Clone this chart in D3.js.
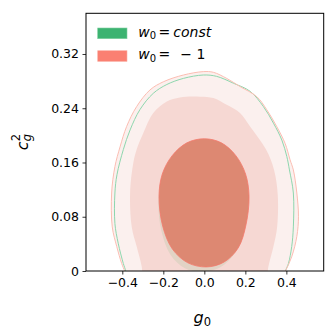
<!DOCTYPE html>
<html>
<head>
<meta charset="utf-8">
<script src="https://cdn.jsdelivr.net/npm/d3@7"></script>
<style>
  html, body { margin: 0; padding: 0; background: #fff; }
  svg text { font-family: "DejaVu Sans", sans-serif; fill: #000; }
</style>
</head>
<body>
<div id="chart"></div>
<script>
// tick values and labels
const xTicks = [-0.4, -0.2, 0.0, 0.2, 0.4];
const xTickLabels = ["\u22120.4", "\u22120.2", "0.0", "0.2", "0.4"];
const yTicks = [0, 0.08, 0.16, 0.24, 0.32];
const yTickLabels = ["0", "0.08", "0.16", "0.24", "0.32"];

// contours, [g0, c_g^2]
const redOuter = [
  [-0.005, 0.294], [0.044, 0.293], [0.109, 0.284], [0.174, 0.272], [0.256, 0.257],
  [0.304, 0.238], [0.353, 0.213], [0.394, 0.188], [0.418, 0.164], [0.434, 0.149],
  [0.451, 0.115], [0.459, 0.080], [0.451, 0.051], [0.426, 0.021], [0.394, -0.001],
  [0.36, -0.02], [0.25, -0.045], [0.0, -0.06], [-0.25, -0.045], [-0.36, -0.02],
  [-0.387, -0.001], [-0.403, 0.011], [-0.427, 0.036], [-0.449, 0.065], [-0.452, 0.115],
  [-0.436, 0.154], [-0.411, 0.183], [-0.379, 0.213], [-0.330, 0.2425], [-0.265, 0.267],
  [-0.200, 0.279], [-0.102, 0.289]
];
const greenOuter = [
  [-0.005, 0.289], [0.060, 0.287], [0.141, 0.277], [0.223, 0.265], [0.288, 0.2425],
  [0.337, 0.218], [0.378, 0.193], [0.402, 0.169], [0.415, 0.149], [0.434, 0.115],
  [0.434, 0.065], [0.426, 0.036], [0.410, 0.011], [0.394, -0.001], [0.37, -0.03],
  [0.2, -0.06], [0.0, -0.07], [-0.2, -0.06], [-0.36, -0.03], [-0.382, -0.001],
  [-0.395, 0.011], [-0.420, 0.041], [-0.436, 0.070], [-0.436, 0.115], [-0.426, 0.142],
  [-0.395, 0.179], [-0.362, 0.208], [-0.314, 0.238], [-0.249, 0.262], [-0.183, 0.275],
  [-0.102, 0.284]
];
const redMiddle = [
  [-0.021, 0.257], [0.044, 0.255], [0.109, 0.245], [0.174, 0.233], [0.223, 0.213],
  [0.301, 0.179], [0.340, 0.149], [0.358, 0.112], [0.355, 0.065], [0.337, 0.036],
  [0.312, 0.006], [0.29, -0.03], [0.0, -0.05], [-0.29, -0.03], [-0.305, 0.006],
  [-0.330, 0.036], [-0.354, 0.065], [-0.362, 0.115], [-0.346, 0.160], [-0.330, 0.179],
  [-0.298, 0.203], [-0.249, 0.233], [-0.183, 0.250], [-0.119, 0.256]
];
const greenInner = [
  [-0.01, 0.19], [0.08, 0.183], [0.15, 0.163], [0.195, 0.135], [0.21, 0.10],
  [0.193, 0.06], [0.15, 0.027], [0.08, 0.006], [-0.01, -0.001], [-0.095, 0.004],
  [-0.165, 0.024], [-0.21, 0.06], [-0.224, 0.105], [-0.205, 0.14], [-0.16, 0.167],
  [-0.09, 0.185]
];
const redInner = [
  [0.0, 0.195], [0.083, 0.189], [0.154, 0.170], [0.201, 0.143], [0.218, 0.110],
  [0.203, 0.068], [0.165, 0.034], [0.095, 0.013], [0.01, 0.006], [-0.08, 0.012],
  [-0.155, 0.032], [-0.203, 0.066], [-0.221, 0.110], [-0.205, 0.143], [-0.157, 0.170],
  [-0.085, 0.189]
];

const legendItems = [
  { color: "#3cb371", edge: "#7fd0a0", rhs: "const", italic: true },
  { color: "#fa8072", edge: "#fbb0a6", rhs: "\u2212 1", italic: false }
];

const width = 336, height = 336;
const margin = { top: 13.3, right: 12.3, bottom: 65, left: 86 };
const innerW = width - margin.left - margin.right;
const innerH = height - margin.top - margin.bottom;

const svg = d3.select("#chart").append("svg")
  .attr("width", width)
  .attr("height", height);

const xScale = d3.scaleLinear().domain([-0.577, 0.582]).range([0, innerW]);
const yScale = d3.scaleLinear().domain([0, 0.38]).range([innerH, 0]);

svg.append("defs").append("clipPath").attr("id", "plot-clip")
  .append("rect").attr("width", innerW).attr("height", innerH);

const bounds = svg.append("g")
  .attr("transform", `translate(${margin.left},${margin.top})`);

const contours = bounds.append("g").attr("clip-path", "url(#plot-clip)");
const lineGen = d3.line()
  .x(d => xScale(d[0]))
  .y(d => yScale(d[1]))
  .curve(d3.curveCatmullRomClosed.alpha(0.5));

contours.append("path").attr("d", lineGen(redOuter)).attr("fill", "#fbf0ee");
contours.append("path").attr("d", lineGen(redMiddle)).attr("fill", "#f6d8d3");
contours.append("path").attr("d", lineGen(greenInner)).attr("fill", "#e2d3c5");
contours.append("path").attr("d", lineGen(redInner))
  .attr("fill", "#dd8872").attr("stroke", "#f47a6c").attr("stroke-width", 0.8);
contours.append("path").attr("d", lineGen(greenOuter))
  .attr("fill", "none").attr("stroke", "#8dd6ad").attr("stroke-width", 1);
contours.append("path").attr("d", lineGen(redOuter))
  .attr("fill", "none").attr("stroke", "#fbbdb2").attr("stroke-width", 1);

// axes
const xAxis = d3.axisBottom(xScale).tickValues(xTicks)
  .tickFormat((d, i) => xTickLabels[i]).tickSize(3.5).tickPadding(3.5);
const yAxis = d3.axisLeft(yScale).tickValues(yTicks)
  .tickFormat((d, i) => yTickLabels[i]).tickSize(3.5).tickPadding(3.5);

const gx = bounds.append("g").attr("transform", `translate(0,${innerH})`).call(xAxis);
const gy = bounds.append("g").call(yAxis);
[gx, gy].forEach(g => {
  g.select(".domain").remove();
  g.selectAll(".tick line").attr("stroke", "#000").attr("stroke-width", 0.8);
  g.selectAll(".tick text")
    .style("font-family", "DejaVu Sans").style("font-size", "12.5px").attr("fill", "#000");
});

bounds.append("rect")
  .attr("width", innerW).attr("height", innerH)
  .attr("fill", "none").attr("stroke", "#000").attr("stroke-width", 1);

// legend
const legend = bounds.append("g").attr("transform", "translate(11.7,14.7)");
legendItems.forEach((item, i) => {
  const row = legend.append("g").attr("transform", `translate(0,${i * 22.7})`);
  row.append("rect")
    .attr("width", 29.3).attr("height", 10.7)
    .attr("fill", item.color).attr("stroke", item.edge).attr("stroke-width", 0.6);
  const t = row.append("text")
    .attr("x", 40.6).attr("y", 8.7)
    .style("font-size", "14px");
  t.append("tspan").style("font-style", "italic").text("w");
  t.append("tspan").attr("dy", 2.5).style("font-size", "10px").text("0");
  t.append("tspan").attr("dy", -2.5).attr("dx", 2.5).text("=");
  t.append("tspan").attr("dx", item.italic ? 3 : 10)
    .style("font-style", item.italic ? "italic" : "normal").text(item.rhs);
});

// axis labels
const xl = svg.append("text")
  .attr("x", margin.left + xScale(0) - 2).attr("y", 323)
  .attr("text-anchor", "middle").style("font-size", "16px");
xl.append("tspan").style("font-style", "italic").text("g");
xl.append("tspan").attr("dy", 2.5).style("font-size", "11.5px").text("0");

const yl = svg.append("g").attr("transform", `translate(28,${margin.top + innerH / 2})`)
  .append("g").attr("transform", "rotate(-90)");
yl.append("text").attr("x", -8).attr("y", 0)
  .style("font-size", "16px").style("font-style", "italic").text("c");
yl.append("text").attr("x", 1).attr("y", 3)
  .style("font-size", "11.5px").style("font-style", "italic").text("g");
yl.append("text").attr("x", 1).attr("y", -8)
  .style("font-size", "11.5px").text("2");
</script>
</body>
</html>
